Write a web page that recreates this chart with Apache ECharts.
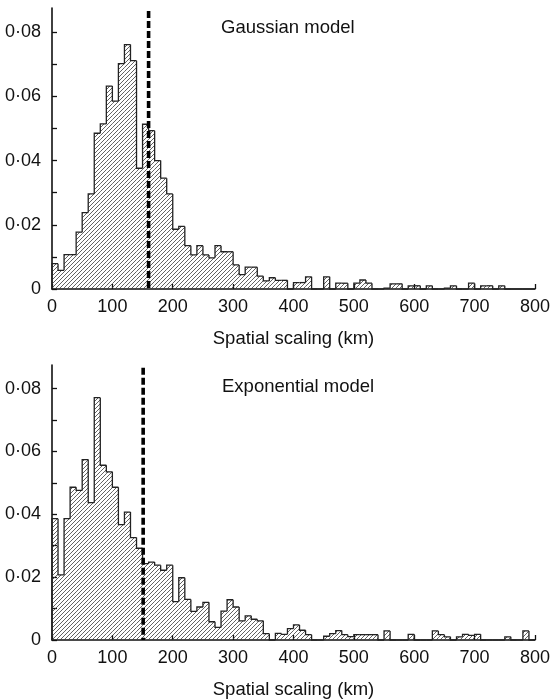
<!DOCTYPE html>
<html>
<head>
    <meta charset="UTF-8">
    <title>Spatial scaling</title>
    <script src="https://cdn.jsdelivr.net/npm/echarts@6/dist/echarts.min.js"></script>
    <style>
        html, body { margin: 0; padding: 0; background: #fff; }
        #main { width: 553px; height: 700px; }
    </style>
</head>
<body>
<div id="main"></div>
<script type="text/javascript">
    // bin width 10 km, 0-800 km
    var binWidth = 10;
    var gaussian = [
        0.0079, 0.0058, 0.0107, 0.0107, 0.0177, 0.0238, 0.0296, 0.0485, 0.0514, 0.0632,
        0.0585, 0.0702, 0.0761, 0.0711, 0.0376, 0.0513, 0.0493, 0.0400, 0.0345, 0.0296,
        0.0186, 0.0195, 0.0135, 0.0106, 0.0135, 0.0106, 0.0097, 0.0135, 0.0116, 0.0116,
        0.0075, 0.0045, 0.0068, 0.0068, 0.0040, 0.0025, 0.0035, 0.0027, 0.0027, 0,
        0.0020, 0.0020, 0.0038, 0, 0, 0.0038, 0, 0.0018, 0.0018, 0,
        0.0018, 0.0028, 0.0018, 0, 0, 0.0003, 0.0016, 0.0016, 0, 0.0010,
        0.0010, 0, 0.0010, 0, 0, 0.0003, 0.0010, 0, 0, 0.0018,
        0, 0.0010, 0.0010, 0, 0.0010, 0, 0, 0, 0, 0
    ];
    var exponential = [
        0.0386, 0.0207, 0.0386, 0.0486, 0.0476, 0.0574, 0.0437, 0.0771, 0.0556, 0.0535,
        0.0486, 0.0367, 0.0407, 0.0326, 0.0292, 0.0243, 0.0248, 0.0238, 0.0222, 0.0238,
        0.0122, 0.0198, 0.0129, 0.0091, 0.0105, 0.0120, 0.0058, 0.0040, 0.0092, 0.0128,
        0.0105, 0.0061, 0.0077, 0.0066, 0.0061, 0.0020, 0, 0.0021, 0.0018, 0.0036,
        0.0048, 0.0031, 0.0017, 0, 0, 0.0012, 0.0020, 0.0030, 0.0017, 0.0011,
        0.0017, 0.0017, 0.0017, 0.0017, 0, 0.0029, 0, 0, 0, 0.0018,
        0, 0, 0, 0.0029, 0.0017, 0.0010, 0, 0.0010, 0.0018, 0.0015,
        0.0018, 0, 0, 0, 0, 0.0010, 0, 0, 0.0029, 0
    ];
    var cutoffs = [160, 151];          // dashed lines
    var panelTitles = ['Gaussian model', 'Exponential model'];
    var yTicks = [0, 0.01, 0.02, 0.03, 0.04, 0.05, 0.06, 0.07, 0.08];
    var yLabels = [0, 0.02, 0.04, 0.06, 0.08];

    var font = "'Liberation Sans', Arial, Helvetica, sans-serif";

    // hatch pattern  ////
    var hatch = document.createElement('canvas');
    hatch.width = 4;
    hatch.height = 4;
    var hc = hatch.getContext('2d');
    hc.strokeStyle = '#3a3a3a';
    hc.lineWidth = 0.8;
    hc.beginPath();
    hc.moveTo(0, 4); hc.lineTo(4, 0);
    hc.moveTo(-1, 1); hc.lineTo(1, -1);
    hc.moveTo(3, 5); hc.lineTo(5, 3);
    hc.stroke();
    var hatchFill = {image: hatch, repeat: 'repeat'};

    function toBins(values) {
        return values.map(function (v, i) {
            var prev = i > 0 ? values[i - 1] : 0;
            return [i * binWidth, (i + 1) * binWidth, v, prev];
        });
    }

    function renderBin(params, api) {
        var x0 = api.value(0), x1 = api.value(1), v = api.value(2), prev = api.value(3);
        var base = api.coord([x0, 0]);
        var top = api.coord([x1, v]);
        var pPrev = api.coord([x0, prev]);
        var children = [];
        if (v > 0) {
            children.push({
                type: 'rect',
                shape: {x: base[0], y: top[1], width: top[0] - base[0], height: base[1] - top[1]},
                style: {fill: hatchFill}
            });
        }
        var pts = [pPrev, [base[0], top[1]], top];
        if (params.dataIndex === params.dataInsideLength - 1) pts.push([top[0], base[1]]);
        children.push({
            type: 'polyline',
            shape: {points: pts},
            style: {stroke: '#222', lineWidth: 1.3, fill: null}
        });
        return {type: 'group', children: children};
    }

    function xAxis(idx) {
        return {
            type: 'value', gridIndex: idx, min: 0, max: 800, interval: 100,
            name: 'Spatial scaling (km)', nameLocation: 'middle', nameGap: 40,
            nameTextStyle: {color: '#111', fontSize: 18.5, fontFamily: font},
            axisLine: {lineStyle: {color: '#111', width: 1.6}},
            axisTick: {inside: true, length: 5, lineStyle: {color: '#111', width: 1.3}},
            axisLabel: {color: '#111', fontSize: 18, fontFamily: font, margin: 9},
            splitLine: {show: false}
        };
    }

    function yAxis(idx) {
        return {
            type: 'value', gridIndex: idx, min: 0, max: 0.0875,
            axisLine: {show: true, lineStyle: {color: '#111', width: 1.6}},
            axisTick: {show: true, inside: true, length: 5, customValues: yTicks,
                lineStyle: {color: '#111', width: 1.3}},
            axisLabel: {
                color: '#111', fontSize: 18, fontFamily: font, margin: 11, customValues: yLabels,
                formatter: function (v) {
                    return v === 0 ? '0' : v.toFixed(2).replace('.', '\u00b7');
                }
            },
            splitLine: {show: false}
        };
    }

    function cutLine(idx) {
        return {
            type: 'line', xAxisIndex: idx, yAxisIndex: idx,
            data: [[cutoffs[idx], 0.0866], [cutoffs[idx], 0]],
            symbol: 'none', silent: true, z: 5,
            lineStyle: {color: '#000', width: 3.6, type: [7, 3]}
        };
    }

    var myChart = echarts.init(document.getElementById('main'));

    var option = {
        animation: false,
        backgroundColor: '#fff',
        title: [
            {text: panelTitles[0], left: 221, top: 18, padding: 0,
                textStyle: {color: '#111', fontSize: 18.5, fontWeight: 'normal', fontFamily: font}},
            {text: panelTitles[1], left: 222, top: 377, padding: 0,
                textStyle: {color: '#111', fontSize: 18.5, fontWeight: 'normal', fontFamily: font}}
        ],
        grid: [
            {left: 52, width: 485, top: 8, height: 281},
            {left: 52, width: 485, top: 365, height: 282}
        ],
        xAxis: [xAxis(0), xAxis(1)],
        yAxis: [yAxis(0), yAxis(1)],
        series: [
            {type: 'custom', xAxisIndex: 0, yAxisIndex: 0, renderItem: renderBin,
                data: toBins(gaussian), encode: {x: [0, 1], y: 2}, silent: true},
            {type: 'custom', xAxisIndex: 1, yAxisIndex: 1, renderItem: renderBin,
                data: toBins(exponential), encode: {x: [0, 1], y: 2}, silent: true},
            cutLine(0),
            cutLine(1)
        ]
    };

    myChart.setOption(option);
</script>
</body>
</html>
